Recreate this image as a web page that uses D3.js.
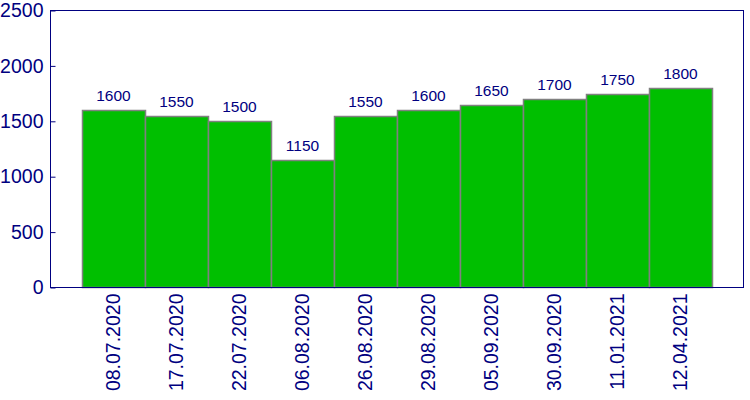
<!DOCTYPE html>
<html>
<head>
<meta charset="utf-8">
<script src="https://cdn.jsdelivr.net/npm/d3@7"></script>
<style>
  body { margin: 0; background: #fff; }
  text { font-family: "Liberation Sans", Arial, sans-serif; }
</style>
</head>
<body>
<div class="chart"></div>
<script>
const dates = ["08.07.2020", "17.07.2020", "22.07.2020", "06.08.2020", "26.08.2020",
	"29.08.2020", "05.09.2020", "30.09.2020", "11.01.2021", "12.04.2021"];
const values = [1600, 1550, 1500, 1150, 1550, 1600, 1650, 1700, 1750, 1800];
const yTicks = [0, 500, 1000, 1500, 2000, 2500];

const width = 750;
const height = 400;
const plotLeft = 50.5, plotRight = 743.5, plotTop = 10.5, plotBottom = 287.5;
const navy = "#000080";

const svg = d3.select('.chart')
	.append('svg')
	.attr('width', width)
	.attr('height', height)

const x = d3.scaleBand()
	.domain(dates)
	.range([plotLeft, plotRight])
	.paddingInner(0)
	.paddingOuter(0.5);

const y = d3.scaleLinear()
	.domain([0, 2500])
	.range([plotBottom, plotTop]);

// bars
svg.selectAll('.bar')
	.data(values)
	.enter()
	.append('rect')
	.attr('class', 'bar')
	.attr('x', function(d, i) { return Math.round(x(dates[i])) + 0.5; })
	.attr('y', function(d) { return Math.round(y(d)) + 0.5; })
	.attr('width', x.bandwidth())
	.attr('height', function(d) { return plotBottom - Math.round(y(d)) - 0.5; })
	.attr('fill', '#00bf00')
	.attr('stroke', '#808080')
	.attr('stroke-width', 1.5);

// value labels
svg.selectAll('.val')
	.data(values)
	.enter()
	.append('text')
	.attr('class', 'val')
	.text(function(d) { return d; })
	.attr('x', function(d, i) { return x(dates[i]) + x.bandwidth() / 2; })
	.attr('y', function(d) { return y(d) - 9; })
	.attr('text-anchor', 'middle')
	.attr('font-size', '15.5px')
	.attr('fill', navy);

// frame
svg.append('rect')
	.attr('x', plotLeft)
	.attr('y', plotTop)
	.attr('width', plotRight - plotLeft)
	.attr('height', plotBottom - plotTop)
	.attr('fill', 'none')
	.attr('stroke', navy);

// y axis
const yAxis = svg.append('g')
	.attr('transform', 'translate(' + plotLeft + ',0)')
	.call(d3.axisRight(y).tickValues(yTicks).tickSize(5).tickFormat(d3.format('d')));
yAxis.select('.domain').remove();
yAxis.selectAll('line').attr('stroke', navy);
yAxis.selectAll('text')
	.attr('x', -7)
	.attr('text-anchor', 'end')
	.attr('font-size', '19.5px')
	.attr('font-family', '"Liberation Sans", Arial, sans-serif')
	.attr('fill', navy);

// x axis
const xAxis = svg.append('g')
	.attr('transform', 'translate(0,' + plotBottom + ')')
	.call(d3.axisBottom(x).tickSize(0));
xAxis.select('.domain').remove();
xAxis.selectAll('text')
	.attr('transform', 'rotate(-90)')
	.attr('x', -6)
	.attr('y', 0)
	.attr('dy', '0.35em')
	.attr('text-anchor', 'end')
	.attr('font-size', '19.5px')
	.attr('font-family', '"Liberation Sans", Arial, sans-serif')
	.attr('fill', navy);
</script>
</body>
</html>
